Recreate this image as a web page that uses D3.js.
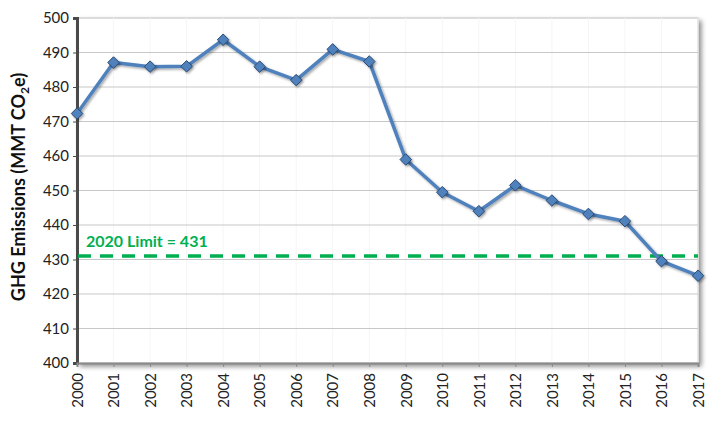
<!DOCTYPE html>
<html><head><meta charset="utf-8">
<script src="https://cdn.jsdelivr.net/npm/d3@7"></script>
<style>body{margin:0;background:#fff}svg{display:block}</style>
</head><body>
<svg id="c" width="721" height="423"></svg>
<script>
const years = [2000,2001,2002,2003,2004,2005,2006,2007,2008,2009,2010,2011,2012,2013,2014,2015,2016,2017];
const emissions = [472.3,487.1,485.9,486.0,493.7,485.9,482.0,490.9,487.4,459.0,449.5,444.0,451.5,447.1,443.2,441.1,429.5,425.3];
const yTicks = [400,410,420,430,440,450,460,470,480,490,500];
const limitValue = 431;
const limitLabel = "2020 Limit = 431";

const svg = d3.select("#c");
const L = 77, R = 698, T = 18, B = 363;
const x = d3.scalePoint().domain(years).range([L, R]);
const y = d3.scaleLinear().domain([400, 500]).range([B, T]);
const FONT = "Lato, 'Open Sans', sans-serif";

const defs = svg.append("defs");
const f = defs.append("filter").attr("id","sh").attr("x","-10%").attr("y","-10%").attr("width","120%").attr("height","120%");
f.append("feDropShadow").attr("dx",3).attr("dy",3).attr("stdDeviation",2.5).attr("flood-color","#000").attr("flood-opacity",0.45);
const fm = defs.append("filter").attr("id","msh").attr("x","-50%").attr("y","-50%").attr("width","200%").attr("height","200%");
fm.append("feDropShadow").attr("dx",1.5).attr("dy",1.5).attr("stdDeviation",1).attr("flood-color","#000").attr("flood-opacity",0.35);

// plot area with shadow
svg.append("rect").attr("x",L).attr("y",T).attr("width",R-L).attr("height",B-T)
  .attr("fill","#fff").attr("stroke","#bdbdbd").attr("stroke-width",1).attr("filter","url(#sh)");

// faint vertical lines
svg.append("g").selectAll("line").data(years.slice(1)).join("line")
  .attr("x1",d=>x(d)).attr("x2",d=>x(d)).attr("y1",T).attr("y2",B)
  .attr("stroke","#f5f5f5").attr("stroke-width",1);

// horizontal gridlines
svg.append("g").selectAll("line").data(yTicks.filter(d=>d>400 && d<500)).join("line")
  .attr("x1",L).attr("x2",R).attr("y1",d=>y(d)).attr("y2",d=>y(d))
  .attr("stroke","#c8c8c8").attr("stroke-width",1.2);

// left axis
const ya = svg.append("g").attr("transform",`translate(${L},0)`)
  .call(d3.axisLeft(y).tickValues(yTicks).tickSize(4).tickPadding(4));
ya.select(".domain").attr("stroke","#4a4a4a").attr("stroke-width",3);
ya.selectAll(".tick line").attr("stroke","#4a4a4a");
ya.selectAll("text").attr("font-family",FONT).attr("font-size",15).attr("fill","#222");

// bottom axis
const xa = svg.append("g").attr("transform",`translate(0,${B})`)
  .call(d3.axisBottom(x).tickSize(4).tickPadding(0));
xa.select(".domain").attr("stroke","#8a8a8a").attr("stroke-width",2);
xa.selectAll(".tick line").attr("stroke","#8a8a8a");
xa.selectAll("text").attr("font-family",FONT).attr("font-size",15).attr("fill","#222")
  .attr("transform","rotate(-90)").attr("text-anchor","end").attr("dy","0.35em").attr("x",-10).attr("y",0);

// limit line
svg.append("line").attr("x1",L+1).attr("x2",R).attr("y1",y(limitValue)).attr("y2",y(limitValue))
  .attr("stroke","#00b050").attr("stroke-width",3.5).attr("stroke-dasharray","13,9");
svg.append("text").attr("x",L+9).attr("y",y(limitValue)-9)
  .attr("font-family",FONT).attr("font-weight","bold").attr("font-size",16)
  .attr("fill","#00b050").text(limitLabel);

// series line
const line = d3.line().x((d,i)=>x(years[i])).y(d=>y(d));
svg.append("path").datum(emissions).attr("d",line).attr("fill","none")
  .attr("stroke","#4f81bd").attr("stroke-width",3.5).attr("stroke-linejoin","round").attr("filter","url(#msh)");

// markers
svg.append("g").selectAll("path").data(emissions).join("path")
  .attr("d",d3.symbol().type(d3.symbolDiamond2).size(85)())
  .attr("transform",(d,i)=>`translate(${x(years[i])},${y(d)})`)
  .attr("fill","#4f81bd").attr("stroke","#2a4a72").attr("stroke-width",1).attr("filter","url(#msh)");

// y label
const yl = svg.append("text").attr("transform",`translate(25,187) rotate(-90)`)
  .attr("text-anchor","middle").attr("font-family",FONT)
  .attr("font-weight","bold").attr("font-size",18).attr("fill","#111");
yl.append("tspan").text("GHG Emissions (MMT CO");
yl.append("tspan").attr("font-size",12).attr("dy",4).text("2");
yl.append("tspan").attr("dy",-4).text("e)");
</script>
</body></html>
